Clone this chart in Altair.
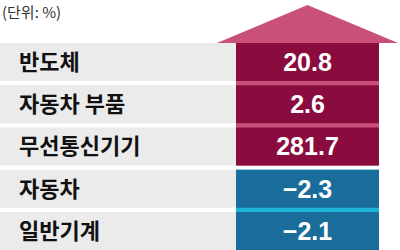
import altair as alt
import pandas as pd

categories = ["반도체", "자동차 부품", "무선통신기기", "자동차", "일반기계"]
values = [20.8, 2.6, 281.7, -2.3, -2.1]
unit_label = "(단위: %)"

PINK = "#c8507a"
DARKRED = "#8a0c3e"
CYAN = "#1bb3d6"
BLUE = "#1a6d9a"
GRAY = "#ebebeb"

df = pd.DataFrame({
    "i": list(range(len(categories))),
    "cat": categories,
    "val": values,
})
df["txt"] = [f"{v:.1f}".replace("-", "\u2212") for v in values]
df["sign"] = ["up" if v >= 0 else "down" for v in values]

yscale = alt.Scale(domain=[0, 4.9], range=[43, 250], nice=False, zero=False)

base = alt.Chart(df).transform_calculate(
    top="datum.i", bot="datum.i + 0.9", mid="datum.i + 0.47"
)

gray = base.mark_rect(color=GRAY).encode(
    x=alt.value(0), x2=alt.value(236),
    y=alt.Y("top:Q", scale=yscale, axis=None), y2="bot:Q",
)

bg = alt.Chart(df).transform_calculate(
    top="datum.i", bot="datum.i + 0.9"
).transform_aggregate(
    top="min(top)", bot="max(bot)", groupby=["sign"]
).mark_rect().encode(
    x=alt.value(236), x2=alt.value(379),
    y=alt.Y("top:Q", axis=None), y2="bot:Q",
    color=alt.Color("sign:N", scale=alt.Scale(domain=["up", "down"], range=[PINK, CYAN]), legend=None),
)

cells = base.mark_rect().encode(
    x=alt.value(236), x2=alt.value(379),
    y=alt.Y("top:Q", axis=None), y2="bot:Q",
    fill=alt.Fill("sign:N", scale=alt.Scale(domain=["up", "down"], range=[DARKRED, BLUE]), legend=None),
)

arrow = alt.Chart(df).transform_filter("datum.i == 0").mark_point(
    shape="M-1,0L0,-0.42L1,0Z", filled=True, color=PINK, opacity=1, strokeWidth=0,
    size=181 * 181,
).encode(
    x=alt.value(307.5),
    y=alt.Y("i:Q", axis=None),
)

labels = base.mark_text(
    align="left", baseline="middle", font="Noto Sans CJK KR", fontWeight="bold",
    fontSize=22, color="#111111",
).encode(
    x=alt.value(19), y=alt.Y("mid:Q", axis=None), text="cat:N",
)

vals = base.mark_text(
    align="center", baseline="middle", font="Liberation Sans", fontWeight="bold",
    fontSize=25, color="white",
).encode(
    x=alt.value(307.5), y=alt.Y("mid:Q", axis=None), text="txt:N",
)

unit = alt.Chart(pd.DataFrame({"t": [unit_label]})).mark_text(
    align="left", baseline="middle", font="Noto Sans CJK KR", fontSize=15, color="#333333",
).encode(x=alt.value(2), y=alt.value(13), text="t:N")

chart = alt.layer(gray, bg, cells, arrow, labels, vals, unit).properties(
    width=400, height=250, autosize=alt.AutoSizeParams(type="none"), padding=0,
    background="white",
).configure_view(stroke=None)

chart.save("out.html", embed_options={"renderer": "svg", "actions": False})
